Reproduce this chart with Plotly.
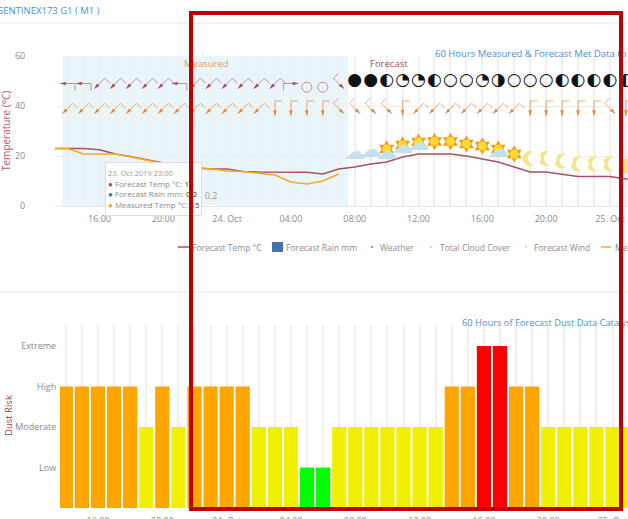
import math
from datetime import datetime, timedelta
import plotly.graph_objects as go

W, H = 628, 519
FONT = "Open Sans"
BASE = datetime(2019, 10, 23)

# ---- data ---------------------------------------------------------------
temp_hours = list(range(13, 51))
forecast_temp = [23, 23, 23, 22.5, 20.8, 19.7, 18.4, 17.2, 16, 15.2, 14.8, 14.8, 13.8, 13.6, 13.5, 13.5, 13.5,
                 12.8, 14.8, 15.6, 16.8, 17.6, 19.6, 20.8, 20.8, 20.8, 20, 18.8, 17.6, 15.6, 13.6, 13.6, 12.8,
                 11.8, 11.8, 11.8, 10.8, 10.5]
measured_hours = list(range(13, 32))
measured_temp = [23, 23, 20.8, 20.8, 20.8, 19.6, 18.2, 17, 15.8, 15.5, 14.8, 14, 13.8, 13, 12.4, 9.6, 8.8, 10, 12.8]
rain_hours = [22, 23]
rain_values = [0.8, 0.2]

wind_hours_1 = list(range(14, 32))
wind_dirs_1 = ["W", "W", "SW", "SW", "SW", "SW", "SW", "W", "SW", "SW", "SW", "SW", "SW", "SW", "E", "", "", "SE"]
calm_hours = [29, 30]
calm_values = [47.5, 47.5]
wind_row_1 = 49
wind_hours_2 = list(range(14, 50))
wind_dirs_2 = ["SW"] * 13 + ["S", "S", "S", "S", "SE", "SE", "SE", "SE", "S"] + ["SW"] * 7 + ["S"] * 5 + ["SE", "S"]
wind_row_2 = 39

cloud_hours = list(range(32, 50))
cloud_glyphs = ["●", "●", "◐", "◔", "◔", "◐", "○", "○", "◔", "◑", "○", "○", "○", "◐", "◐", "◐", "◐", "◐"]
cloud_values = [50] * 18

sun_hours = [34, 35, 36, 37, 38, 39, 40, 41, 42]
sun_values = [22.8, 24.4, 25.6, 25.8, 25.8, 24.8, 24, 22.8, 20.8]
overcast_hours = [32, 33, 34, 35, 36, 41]
overcast_values = [21, 22, 21, 23.4, 24.6, 21.8]
moon_hours = [43, 44, 45, 46, 47, 48, 49]
moon_values = [19, 19, 18, 16.8, 16.8, 16.8, 16]

risk_hours = list(range(14, 50))
risk_levels = [3, 3, 3, 3, 3, 2, 3, 2, 3, 3, 3, 3, 2, 2, 2, 1, 1, 2, 2, 2, 2, 2, 2, 2,
               3, 3, 4, 4, 3, 3, 2, 2, 2, 2, 2, 2]
risk_palette = {1: "#00ff00", 2: "#f2f000", 3: "#ffa500", 4: "#ff0000"}
risk_names = ["Low", "Moderate", "High", "Extreme"]

tick_hours = [16, 20, 24, 28, 32, 36, 40, 44, 48]
tick_labels = ["16:00", "20:00", "24. Oct", "04:00", "08:00", "12:00", "16:00", "20:00", "25. Oct"]
band_hours = [13.65, 31.58]

# ---- helpers ------------------------------------------------------------
def t(h):
    return BASE + timedelta(hours=h)

PX_H = 15.95
def px_hour(px):
    return 16 + (px - 99.5) / PX_H

PX_H2 = 16.08
def px_hour2(px):
    return 16 + (px - 98.0) / PX_H2

def X(px):
    return px / W

def Y(px):
    return 1 - px / H

UNIT = {"N": (0, -1), "S": (0, 1), "E": (1, 0), "W": (-1, 0),
        "SW": (-0.707, 0.707), "SE": (0.707, 0.707)}

def barbs(hours, dirs, row, color, alpha):
    xs, ys, tx, ty, ang = [], [], [], [], []
    L, F = 15.0, 7.0
    for h, d in zip(hours, dirs):
        if not d:
            continue
        ux, uy = UNIT[d]
        tipx, tipy = ux * L / 2, uy * L / 2
        tailx, taily = -tipx, -tipy
        fx, fy = tailx + uy * F, taily - ux * F
        if d == "E":
            fy = taily + F
        for a, b in ((tipx, tipy), (tailx, taily), (fx, fy)):
            xs.append(t(h + a / PX_H))
            ys.append(row - b / 2.5)
        xs.append(None)
        ys.append(None)
        tx.append(t(h + tipx / PX_H))
        ty.append(row - tipy / 2.5)
        ang.append(math.degrees(math.atan2(ux, -uy)))
    return [
        go.Scatter(x=xs, y=ys, mode="lines", line=dict(color=color, width=1), opacity=alpha,
                   hoverinfo="skip", xaxis="x", yaxis="y"),
        go.Scatter(x=tx, y=ty, mode="markers", hoverinfo="skip", xaxis="x", yaxis="y",
                   marker=dict(symbol="arrow", size=6, color=color, angle=ang, line=dict(width=0))),
    ]

fig = go.Figure()

# rain
fig.add_trace(go.Bar(x=[t(h) for h in rain_hours], y=rain_values, width=0.85 * 3600000,
                     marker=dict(color="#ffffff", line=dict(width=0)),
                     text=[str(v) for v in rain_values], textposition="outside", cliponaxis=False,
                     textfont=dict(family=FONT, size=9, color="#9a9a9a"), xaxis="x", yaxis="y"))
# temperature
fig.add_trace(go.Scatter(x=[t(h) for h in temp_hours], y=forecast_temp, mode="lines",
                         line=dict(color="#a9505f", width=1.4), xaxis="x", yaxis="y"))
fig.add_trace(go.Scatter(x=[t(h) for h in measured_hours], y=measured_temp, mode="lines",
                         line=dict(color="#f7a823", width=1.4), xaxis="x", yaxis="y"))
# wind
for tr in barbs(wind_hours_1, wind_dirs_1, wind_row_1, "#a9505f", 0.62):
    fig.add_trace(tr)
for tr in barbs(wind_hours_2, wind_dirs_2, wind_row_2, "#e58a3c", 0.7):
    fig.add_trace(tr)
fig.add_trace(go.Scatter(x=[t(h) for h in calm_hours], y=calm_values, mode="markers", xaxis="x", yaxis="y",
                         marker=dict(symbol="circle-open", size=10, color="#c98a92", line=dict(width=1))))
# cloud cover
fig.add_trace(go.Scatter(x=[t(h) for h in cloud_hours], y=cloud_values, mode="text", text=cloud_glyphs,
                         textposition="middle center", xaxis="x", yaxis="y",
                         textfont=dict(family="DejaVu Sans", size=17, color="#111111")))
# weather
fig.add_trace(go.Scatter(x=[t(h) for h in sun_hours], y=sun_values, mode="markers", xaxis="x", yaxis="y",
                         marker=dict(symbol="hexagram", size=13, color="#f59a00", line=dict(width=0))))
fig.add_trace(go.Scatter(x=[t(h) for h in sun_hours], y=sun_values, mode="markers", xaxis="x", yaxis="y",
                         marker=dict(symbol="circle", size=9, color="#ffd83a", line=dict(width=0))))
fig.add_trace(go.Scatter(x=[t(h) for h in overcast_hours], y=overcast_values, mode="text", text=["☁"] * len(overcast_hours),
                         textposition="middle center", xaxis="x", yaxis="y",
                         textfont=dict(family="DejaVu Sans", size=22, color="#c4e0ed")))
fig.add_trace(go.Scatter(x=[t(h) for h in moon_hours], y=moon_values, mode="markers", xaxis="x", yaxis="y",
                         marker=dict(symbol="circle", size=15, color="#f3e58a", line=dict(width=0))))
fig.add_trace(go.Scatter(x=[t(h + 0.27) for h in moon_hours], y=moon_values, mode="markers", xaxis="x", yaxis="y",
                         marker=dict(symbol="circle", size=13, color="#ffffff", line=dict(width=0))))
# dust risk
fig.add_trace(go.Bar(x=[t(h) for h in risk_hours], y=risk_levels, width=0.88 * 3600000,
                     marker=dict(color=[risk_palette[v] for v in risk_levels], line=dict(width=0)),
                     xaxis="x2", yaxis="y2"))

tick_font = dict(family=FONT, size=9, color="#8a8a8a")
x_common = dict(type="date", tickmode="array", tickvals=[t(h) for h in tick_hours], ticktext=tick_labels,
                showgrid=True, gridcolor="#efefef", gridwidth=1.5, zeroline=False,
                tickfont=tick_font, ticks="outside", ticklen=4, tickcolor="rgba(0,0,0,0)",
                minor=dict(showgrid=True, gridcolor="#efefef", gridwidth=1.5, dtick=3600000,
                           tick0=t(0), ticks=""))

# annotations hang off one point inside the top axes
REF_PX, REF_PY, REF_T = 300, 131, 30
def placed(px, py, **kw):
    return dict(xref="x", yref="y", x=t(px_hour(REF_PX)), y=REF_T,
                xshift=px - REF_PX, yshift=REF_PY - py, showarrow=False, **kw)

annotations = []
def note(px, py, text, color="#8a8a8a", size=8.5, xanchor="left", angle=0):
    nudge = -2 if xanchor == "left" else 0
    annotations.append(placed(px + nudge, py, text=text, xanchor=xanchor, yanchor="middle", textangle=angle, align="left",
                              font=dict(family=FONT, size=size, color=color)))

note(-2, 10, "SENTINEX173 G1 ( M1 )", color="#4d8fdc", size=9.5)
note(435, 53, "60 Hours Measured &amp; Forecast Met Data to Catalyst", color="#4d8fdc", size=9.5)
note(462, 322, "60 Hours of Forecast Dust Data Catalyst", color="#4d8fdc", size=9.3)
note(184, 63, "Measured", color="#e6a060", size=9.5)
note(370, 63, "Forecast", color="#a9505f", size=9.5)
note(6, 131, "Temperature (°C)", color="#b3606c", size=10, xanchor="center", angle=-90)
note(8, 416, "Dust Risk", color="#a9404f", size=9.5, xanchor="center", angle=-90)

legend_text = "#8e8e8e"
note(192, 247, "Forecast Temp °C", color=legend_text)
note(286, 247, "Forecast Rain mm", color=legend_text)
note(380, 247, "Weather", color=legend_text)
note(440, 247, "Total Cloud Cover", color=legend_text)
note(534, 247, "Forecast Wind", color=legend_text)
note(615, 247, "Measured Temp °C", color=legend_text)

# tooltip
tooltip = ("<span style='font-size:7.5px;color:#9a9a9a'>23. Oct 2019 23:00</span><br>"
           "<span style='color:#a9505f'>●</span> Forecast Temp °C: <span style='color:#333'>15</span><br>"
           "<span style='color:#4572a7'>●</span> Forecast Rain mm: <span style='color:#333'>0.2</span><br>"
           "<span style='color:#f7a823'>●</span> Measured Temp °C: <span style='color:#333'>15</span>")
annotations.append(placed(105, 162, xanchor="left", yanchor="top", text=tooltip, align="left", width=91, height=48,
                          bgcolor="rgba(255,255,255,0.96)", bordercolor="#dddddd", borderwidth=1, borderpad=2,
                          font=dict(family=FONT, size=8, color="#8a8a8a")))
# highlight frame
annotations.append(placed(188.7, 10.7, xanchor="left", yanchor="top", text=" ", width=426, height=492,
                          borderwidth=4, borderpad=0, bordercolor="#bf0000", bgcolor="rgba(0,0,0,0)"))

def rule(py, color="#e8e8e8"):
    return dict(type="line", xref="paper", yref="paper", x0=0, x1=1, y0=Y(py), y1=Y(py),
                line=dict(color=color, width=1))

def swatch_line(x0, x1, color):
    return dict(type="line", xref="paper", yref="paper", x0=X(x0), x1=X(x1), y0=Y(247), y1=Y(247),
                line=dict(color=color, width=1.5))

def dot(cx, color):
    return dict(type="circle", xref="paper", yref="paper", x0=X(cx - 1), x1=X(cx + 1), y0=Y(248), y1=Y(246),
                fillcolor=color, line=dict(width=0))

shapes = [
    rule(23), rule(292),
    dict(type="rect", xref="x", yref="paper", x0=t(band_hours[0]), x1=t(band_hours[1]), y0=Y(206), y1=Y(56),
         fillcolor="rgba(150,208,230,0.22)", line=dict(width=0), layer="below"),
    swatch_line(178, 192, "#a9505f"),
    dict(type="rect", xref="paper", yref="paper", x0=X(272), x1=X(283), y0=Y(252), y1=Y(242),
         fillcolor="#4572a7", line=dict(width=0)),
    dot(372, "#e040d0"), dot(431, "#f0b0e0"), dot(526, "#f0b0e0"),
    swatch_line(601, 611, "#f7a823"),
]

fig.update_layout(
    width=W, height=H, margin=dict(l=0, r=0, t=0, b=0, pad=0, autoexpand=False),
    paper_bgcolor="white", plot_bgcolor="white",
    showlegend=False, barmode="overlay", annotations=annotations, shapes=shapes, hovermode=False,
    xaxis=dict(domain=[X(55), 1], range=[t(px_hour(55)), t(px_hour(628))], anchor="y",
               showline=True, linecolor="#e6e6e6", **x_common),
    yaxis=dict(domain=[Y(206), Y(56)], range=[0, 60], tickvals=[0, 20, 40, 60], anchor="x",
               gridcolor="#eeeeee", zeroline=False, tickfont=tick_font, ticks="outside", ticklen=27,
               tickcolor="rgba(0,0,0,0)"),
    xaxis2=dict(domain=[X(60), 1], range=[t(px_hour2(60)), t(px_hour2(628))], anchor="y2", **x_common),
    yaxis2=dict(domain=[Y(508), Y(325)], range=[0, 4.52], tickvals=[1, 2, 3, 4], ticktext=risk_names, anchor="x2",
                showgrid=False, zeroline=False, tickfont=tick_font, ticks="outside", ticklen=1,
                tickcolor="rgba(0,0,0,0)"),
)

fig.write_html("out.html", config=dict(displayModeBar=False),
               post_script="document.body.style.margin='0';document.documentElement.style.overflow='hidden';")
